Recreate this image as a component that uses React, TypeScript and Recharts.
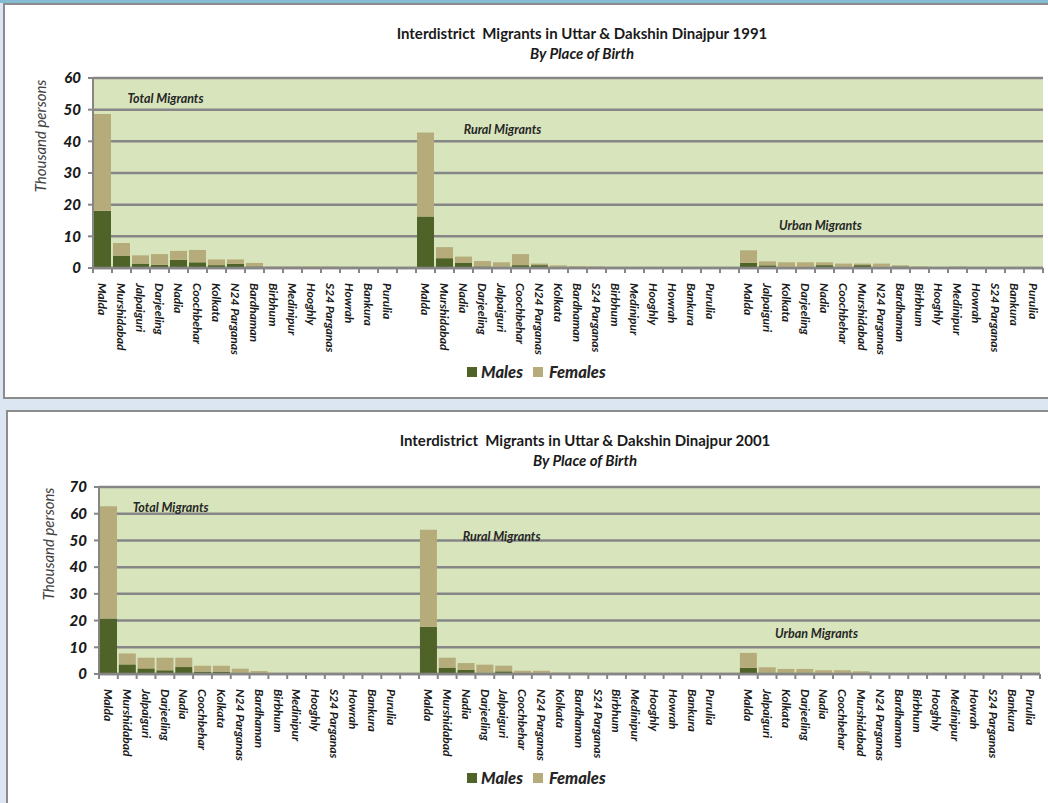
import React from "react";
import {
  BarChart,
  Bar,
  XAxis,
  YAxis,
  CartesianGrid,
  ReferenceDot,
} from "recharts";

const TOTAL_ORDER = [
  "Malda", "Murshidabad", "Jalpaiguri", "Darjeeling", "Nadia", "Coochbehar",
  "Kolkata", "N24 Parganas", "Bardhaman", "Birbhum", "Medinipur", "Hooghly",
  "S24 Parganas", "Howrah", "Bankura", "Purulia",
];
const RURAL_ORDER = [
  "Malda", "Murshidabad", "Nadia", "Darjeeling", "Jalpaiguri", "Coochbehar",
  "N24 Parganas", "Kolkata", "Bardhaman", "S24 Parganas", "Birbhum", "Medinipur",
  "Hooghly", "Howrah", "Bankura", "Purulia",
];
const URBAN_ORDER = [
  "Malda", "Jalpaiguri", "Kolkata", "Darjeeling", "Nadia", "Coochbehar",
  "Murshidabad", "N24 Parganas", "Bardhaman", "Birbhum", "Hooghly", "Medinipur",
  "Howrah", "S24 Parganas", "Bankura", "Purulia",
];

// 1991, thousand persons
const TOTAL_MALES_1991 = [18.1, 3.9, 1.4, 1.0, 2.6, 1.8, 0.9, 1.3, 0.5, 0.2, 0.2, 0.2, 0.2, 0.2, 0.05, 0.05];
const TOTAL_FEMALES_1991 = [30.5, 4.0, 2.6, 3.4, 2.8, 3.9, 1.8, 1.4, 1.1, 0.3, 0.3, 0.3, 0.3, 0.2, 0.05, 0.05];
const RURAL_MALES_1991 = [16.3, 3.1, 1.7, 0.5, 0.4, 0.9, 0.9, 0.3, 0.2, 0.1, 0.05, 0.05, 0.05, 0.05, 0.02, 0.02];
const RURAL_FEMALES_1991 = [26.5, 3.5, 1.9, 1.7, 1.4, 3.5, 0.5, 0.55, 0.4, 0.4, 0.05, 0.05, 0.05, 0.05, 0.02, 0.02];
const URBAN_MALES_1991 = [1.6, 0.85, 0.3, 0.3, 0.9, 0.4, 0.9, 0.3, 0.5, 0.1, 0.05, 0.1, 0.05, 0.05, 0.02, 0.02];
const URBAN_FEMALES_1991 = [4.0, 1.25, 1.5, 1.5, 0.9, 1.0, 0.5, 1.1, 0.35, 0.4, 0.15, 0.4, 0.05, 0.05, 0.03, 0.03];

// 2001, thousand persons
const TOTAL_MALES_2001 = [20.8, 3.6, 2.1, 1.4, 2.6, 0.9, 0.9, 0.5, 0.2, 0.02, 0.02, 0.02, 0.25, 0.05, 0.05, 0.02];
const TOTAL_FEMALES_2001 = [42.0, 4.1, 4.0, 4.7, 3.5, 2.2, 2.2, 1.5, 0.9, 0.03, 0.03, 0.03, 0.05, 0.15, 0.15, 0.08];
const RURAL_MALES_2001 = [17.7, 2.4, 1.5, 0.5, 1.0, 0.2, 0.2, 0.1, 0.1, 0.25, 0.05, 0.05, 0.05, 0.05, 0.05, 0.05];
const RURAL_FEMALES_2001 = [36.3, 3.7, 2.6, 3.0, 2.1, 1.0, 1.0, 0.4, 0.4, 0.05, 0.15, 0.15, 0.15, 0.15, 0.15, 0.15];
const URBAN_MALES_2001 = [2.3, 0.5, 0.5, 0.5, 0.2, 0.2, 0.2, 0.1, 0.05, 0.25, 0.25, 0.25, 0.05, 0.05, 0.05, 0.05];
const URBAN_FEMALES_2001 = [5.6, 2.0, 1.4, 1.4, 1.2, 1.2, 0.8, 0.3, 0.15, 0.05, 0.05, 0.05, 0.15, 0.15, 0.15, 0.15];

const Y_TICKS_1991 = [0, 10, 20, 30, 40, 50, 60];
const Y_TICKS_2001 = [0, 10, 20, 30, 40, 50, 60, 70];

const MALE = "#4f6228";
const FEMALE = "#b6ac7b";
const PLOT_BG = "#d8e4bc";
const GRID = "#868686";
const FONT = "Lato, 'Open Sans', sans-serif";

type Row = { key: string; name: string; males: number | null; females: number | null };

function buildRows(groups: { id: string; names: string[]; males: number[]; females: number[] }[]) {
  const rows: Row[] = [];
  groups.forEach((g, gi) => {
    if (gi > 0) rows.push({ key: `gap${gi}`, name: "", males: null, females: null });
    g.names.forEach((n, i) =>
      rows.push({ key: `${g.id}${i}`, name: n, males: g.males[i], females: g.females[i] })
    );
  });
  return rows;
}

const ROWS_1991 = buildRows([
  { id: "t", names: TOTAL_ORDER, males: TOTAL_MALES_1991, females: TOTAL_FEMALES_1991 },
  { id: "r", names: RURAL_ORDER, males: RURAL_MALES_1991, females: RURAL_FEMALES_1991 },
  { id: "u", names: URBAN_ORDER, males: URBAN_MALES_1991, females: URBAN_FEMALES_1991 },
]);
const ROWS_2001 = buildRows([
  { id: "t", names: TOTAL_ORDER, males: TOTAL_MALES_2001, females: TOTAL_FEMALES_2001 },
  { id: "r", names: RURAL_ORDER, males: RURAL_MALES_2001, females: RURAL_FEMALES_2001 },
  { id: "u", names: URBAN_ORDER, males: URBAN_MALES_2001, females: URBAN_FEMALES_2001 },
]);

function XTick(props: any) {
  const { x, y, payload, index, rows, band } = props;
  const row = rows.find((r: Row) => r.key === payload.value);
  const last = index === rows.length - 1;
  return (
    <g>
      <line x1={x - band / 2} x2={x - band / 2} y1={y} y2={y + 5} stroke={GRID} strokeWidth={2} />
      {last && <line x1={x + band / 2} x2={x + band / 2} y1={y} y2={y + 5} stroke={GRID} strokeWidth={2} />}
      <text
        transform={`translate(${x},${y + 15}) rotate(90)`}
        textAnchor="start"
        dy="0.35em"
        fontFamily={FONT}
        fontSize={12}
        fontStyle="italic"
        fontWeight="bold"
        fill="#1a1a1a"
      >
        {row ? row.name : ""}
      </text>
    </g>
  );
}

function YTitle({ cx, cy }: { cx: number; cy: number }) {
  return (
    <text
      x={cx}
      y={cy}
      transform={`rotate(-90, ${cx}, ${cy})`}
      textAnchor="middle"
      dominantBaseline="central"
      fontFamily={FONT}
      fontSize={15}
      fontStyle="italic"
      fill="#404040"
    >
      Thousand persons
    </text>
  );
}

function GroupLabel(props: any) {
  const { viewBox, text, dx } = props;
  if (!viewBox) return null;
  const x = viewBox.x + (viewBox.width || 0) / 2 + dx;
  const y = viewBox.y + (viewBox.height || 0) / 2;
  return (
    <text
      x={x}
      y={y}
      textAnchor="middle"
      dominantBaseline="central"
      fontFamily={FONT}
      fontSize={12.5}
      fontStyle="italic"
      fontWeight="bold"
      fill="#262626"
    >
      {text}
    </text>
  );
}

type PanelProps = {
  year: string;
  rows: Row[];
  ticks: number[];
  left: number;
  top: number;
  width: number;
  height: number;
  plotLeft: number;
  plotTop: number;
  plotBottom: number;
  plotRight: number;
  yTitle: { cx: number; cy: number };
  groupLabels: { key: string; y: number; text: string; dx: number }[];
  legendTop: number;
  legendLeft: number;
};

function Panel(p: PanelProps) {
  const band = (p.plotRight - p.plotLeft) / p.rows.length;
  const xAxisHeight = 100;
  const yMax = p.ticks[p.ticks.length - 1];
  return (
    <div
      style={{
        position: "absolute",
        left: p.left,
        top: p.top,
        width: p.width,
        height: p.height,
        background: "#fff",
        borderLeft: "2px solid #8c8c8c",
        borderTop: "2px solid #8c8c8c",
        borderBottom: "2px solid #8c8c8c",
        boxSizing: "border-box",
      }}
    >
      <div style={{ position: "absolute", left: 0, top: 0 }}>
        <BarChart
          width={p.width - 2}
          height={p.height - 4}
          data={p.rows}
          barCategoryGap={1}
          margin={{
            top: p.plotTop,
            right: p.width - 2 - p.plotRight,
            left: 0,
            bottom: p.height - 4 - p.plotBottom - xAxisHeight,
          }}
        >
          <CartesianGrid
            vertical={false}
            fill={PLOT_BG}
            fillOpacity={1}
            stroke={GRID}
            strokeWidth={2.5}
          />
          <XAxis
            dataKey="key"
            type="category"
            interval={0}
            height={xAxisHeight}
            tickSize={0}
            tickMargin={0}
            tickLine={false}
            axisLine={{ stroke: GRID, strokeWidth: 2.5 }}
            tick={<XTick rows={p.rows} band={band} />}
          />
          <YAxis
            width={p.plotLeft}
            domain={[0, yMax]}
            ticks={p.ticks}
            interval={0}
            tickSize={5}
            tickMargin={7}
            tickLine={{ stroke: GRID, strokeWidth: 2 }}
            axisLine={{ stroke: GRID, strokeWidth: 2 }}
            tick={{ fill: "#1a1a1a", fontSize: 15, fontWeight: 900, fontStyle: "italic", fontFamily: FONT }}
            label={<YTitle cx={p.yTitle.cx} cy={p.yTitle.cy} />}
          />
          <Bar dataKey="males" stackId="a" fill={MALE} isAnimationActive={false} />
          <Bar dataKey="females" stackId="a" fill={FEMALE} isAnimationActive={false} />
          {p.groupLabels.map((g) => (
            <ReferenceDot
              key={g.key}
              x={g.key}
              y={g.y}
              r={0}
              fill="none"
              stroke="none"
              ifOverflow="visible"
              label={<GroupLabel text={g.text} dx={g.dx} />}
            />
          ))}
        </BarChart>
      </div>
      <div
        style={{
          position: "absolute",
          left: 327,
          top: 19,
          width: 500,
          textAlign: "center",
          fontFamily: FONT,
          fontWeight: "bold",
          fontSize: 15,
          lineHeight: "19px",
          color: "#1a1a1a",
          whiteSpace: "pre",
        }}
      >
        <div>{`Interdistrict  Migrants in Uttar & Dakshin Dinajpur ${p.year}`}</div>
        <div style={{ fontStyle: "italic", marginTop: 1 }}>By Place of Birth</div>
      </div>
      <div
        style={{
          position: "absolute",
          left: p.legendLeft,
          top: p.legendTop,
          display: "flex",
          alignItems: "center",
          fontFamily: FONT,
          fontWeight: 900,
          fontStyle: "italic",
          fontSize: 16.5,
          lineHeight: "20px",
          color: "#262626",
        }}
      >
        <span style={{ width: 10, height: 10, background: MALE, display: "inline-block" }} />
        <span style={{ marginLeft: 4 }}>Males</span>
        <span style={{ width: 10, height: 10, background: FEMALE, display: "inline-block", marginLeft: 10 }} />
        <span style={{ marginLeft: 6 }}>Females</span>
      </div>
    </div>
  );
}

export default function App() {
  return (
    <div
      style={{
        position: "absolute",
        left: 0,
        top: 0,
        width: 1048,
        height: 803,
        background: "#dce6f2",
        overflow: "hidden",
      }}
    >
      <div style={{ position: "absolute", left: 0, top: 0, width: 1048, height: 3, background: "#86bcd3" }} />
      <Panel
        year="1991"
        rows={ROWS_1991}
        ticks={Y_TICKS_1991}
        left={3}
        top={3}
        width={1048}
        height={396}
        plotLeft={88}
        plotTop={73}
        plotBottom={263}
        plotRight={1038}
        yTitle={{ cx: 35, cy: 131 }}
        groupLabels={[
          { key: "t4", y: 53.4, text: "Total Migrants", dx: -13 },
          { key: "r4", y: 43.8, text: "Rural Migrants", dx: 1 },
          { key: "u4", y: 13.5, text: "Urban Migrants", dx: -4 },
        ]}
        legendLeft={462}
        legendTop={357}
      />
      <Panel
        year="2001"
        rows={ROWS_2001}
        ticks={Y_TICKS_2001}
        left={6}
        top={410}
        width={1045}
        height={396}
        plotLeft={91}
        plotTop={75}
        plotBottom={262}
        plotRight={1032}
        yTitle={{ cx: 40, cy: 132 }}
        groupLabels={[
          { key: "t4", y: 62.5, text: "Total Migrants", dx: -13 },
          { key: "r4", y: 51.3, text: "Rural Migrants", dx: -2 },
          { key: "u4", y: 15.1, text: "Urban Migrants", dx: -7 },
        ]}
        legendLeft={459}
        legendTop={356}
      />
    </div>
  );
}
